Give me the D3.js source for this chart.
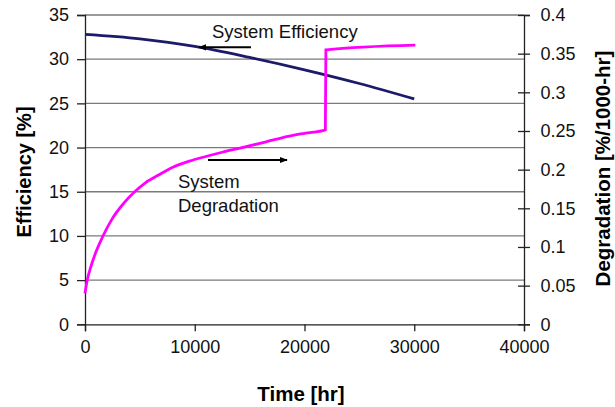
<!DOCTYPE html>
<html>
<head>
<meta charset="utf-8">
<script src="https://cdn.jsdelivr.net/npm/d3@7"></script>
<style>
body { margin: 0; padding: 0; background: #fff; }
svg { display: block; font-family: "Liberation Sans", Arial, sans-serif; }
</style>
</head>
<body>
<script>
// data
var effTime = [0, 5000, 10000, 15000, 20000, 25000, 30000];
var effValue = [32.8, 32.3, 31.45, 30.2, 28.8, 27.25, 25.5];

var degTime = [0, 200, 500, 900, 1600, 2500, 3500, 4500, 5500, 6700, 8000, 9500, 11000, 12500, 14500, 16500, 18500, 20000, 21900, 21950, 30100];
var degValue = [0.040, 0.057, 0.073, 0.090, 0.113, 0.137, 0.156, 0.171, 0.183, 0.193, 0.203, 0.211, 0.217, 0.2225, 0.229, 0.236, 0.243, 0.247, 0.2515, 0.355, 0.361];

var xTicks = [0, 10000, 20000, 30000, 40000];
var effTicks = [0, 5, 10, 15, 20, 25, 30, 35];
var degTicks = [0, 0.05, 0.1, 0.15, 0.2, 0.25, 0.3, 0.35, 0.4];

var width = 615, height = 407;
// plot box (window.top is taken, so own names)
var plotL = 85, plotR = 524, plotT = 15, plotB = 324.3;

var svg = d3.select("body").append("svg")
    .attr("width", width)
    .attr("height", height);

var x = d3.scaleLinear().domain([0, 40000]).range([plotL, plotR]);
var yL = d3.scaleLinear().domain([0, 35]).range([plotB, plotT]);
var yR = d3.scaleLinear().domain([0, 0.4]).range([plotB, plotT]);

// gridlines from left axis
svg.append("g").selectAll("line")
    .data(effTicks.filter(function(d){ return d > 0; }))
    .enter().append("line")
    .attr("x1", plotL).attr("x2", plotR)
    .attr("y1", function(d){ return yL(d); })
    .attr("y2", function(d){ return yL(d); })
    .style("stroke", "#7a7a7a")
    .style("stroke-width", 1.3);

// left axis
var gL = svg.append("g")
    .attr("transform", "translate(" + plotL + ",0)")
    .call(d3.axisLeft(yL).tickValues(effTicks).tickSize(8).tickPadding(8).tickFormat(d3.format("d")));

// right axis (ticks cross the line)
var gR = svg.append("g")
    .attr("transform", "translate(" + plotR + ",0)")
    .call(d3.axisRight(yR).tickValues(degTicks).tickSize(6).tickPadding(10.5).tickFormat(function(d){ return String(+d.toFixed(2)); }));
gR.selectAll(".tick line").attr("x1", -6);

// bottom axis
var gB = svg.append("g")
    .attr("transform", "translate(0," + plotB + ")")
    .call(d3.axisBottom(x).tickValues(xTicks).tickSize(7).tickPadding(9).tickFormat(d3.format("d")));

[gL, gR, gB].forEach(function(g){
    g.select(".domain").style("stroke", "#222").style("stroke-width", 1.3);
    g.selectAll(".tick line").style("stroke", "#222").style("stroke-width", 1.3);
    g.selectAll(".tick text")
        .style("font-family", "'Liberation Sans', Arial, sans-serif")
        .style("font-size", "18px")
        .style("fill", "#111");
});

// lines
var effLine = d3.line()
    .x(function(d, i){ return x(effTime[i]); })
    .y(function(d){ return yL(d); })
    .curve(d3.curveMonotoneX);
svg.append("path")
    .attr("d", effLine(effValue))
    .style("fill", "none")
    .style("stroke", "#1c1a6a")
    .style("stroke-width", 2.8);

var degLine = d3.line()
    .x(function(d, i){ return x(degTime[i]); })
    .y(function(d){ return yR(d); })
    .curve(d3.curveMonotoneX);
svg.append("path")
    .attr("d", degLine(degValue))
    .style("fill", "none")
    .style("stroke", "#ff00ff")
    .style("stroke-width", 2.8);

// annotations
var defs = svg.append("defs");
defs.append("marker")
    .attr("id", "arr")
    .attr("viewBox", "0 0 10 10")
    .attr("refX", 9).attr("refY", 5)
    .attr("markerWidth", 4).attr("markerHeight", 4)
    .attr("orient", "auto")
    .append("path").attr("d", "M0,1L10,5L0,9Z").style("fill", "#000");

svg.append("line")
    .attr("x1", 251).attr("y1", 47.3).attr("x2", 199).attr("y2", 47.3)
    .style("stroke", "#000").style("stroke-width", 2)
    .attr("marker-end", "url(#arr)");
svg.append("text")
    .attr("x", 212).attr("y", 38)
    .style("font-size", "18.5px").style("fill", "#111")
    .text("System Efficiency");

svg.append("line")
    .attr("x1", 208).attr("y1", 160).attr("x2", 287).attr("y2", 160)
    .style("stroke", "#000").style("stroke-width", 2)
    .attr("marker-end", "url(#arr)");
svg.append("text")
    .attr("x", 178).attr("y", 188)
    .style("font-size", "18.5px").style("fill", "#111")
    .text("System");
svg.append("text")
    .attr("x", 178).attr("y", 212)
    .style("font-size", "18.5px").style("fill", "#111")
    .text("Degradation");

// axis titles
svg.append("text")
    .attr("transform", "translate(31,172) rotate(-90)")
    .attr("text-anchor", "middle")
    .style("font-size", "20px").style("font-weight", "bold").style("fill", "#000")
    .text("Efficiency [%]");

svg.append("text")
    .attr("transform", "translate(610,168.5) rotate(-90)")
    .attr("text-anchor", "middle")
    .style("font-size", "20.5px").style("font-weight", "bold").style("fill", "#000")
    .text("Degradation [%/1000-hr]");

svg.append("text")
    .attr("x", 301).attr("y", 401)
    .attr("text-anchor", "middle")
    .style("font-size", "20.5px").style("font-weight", "bold").style("fill", "#000")
    .text("Time [hr]");
</script>
</body>
</html>
